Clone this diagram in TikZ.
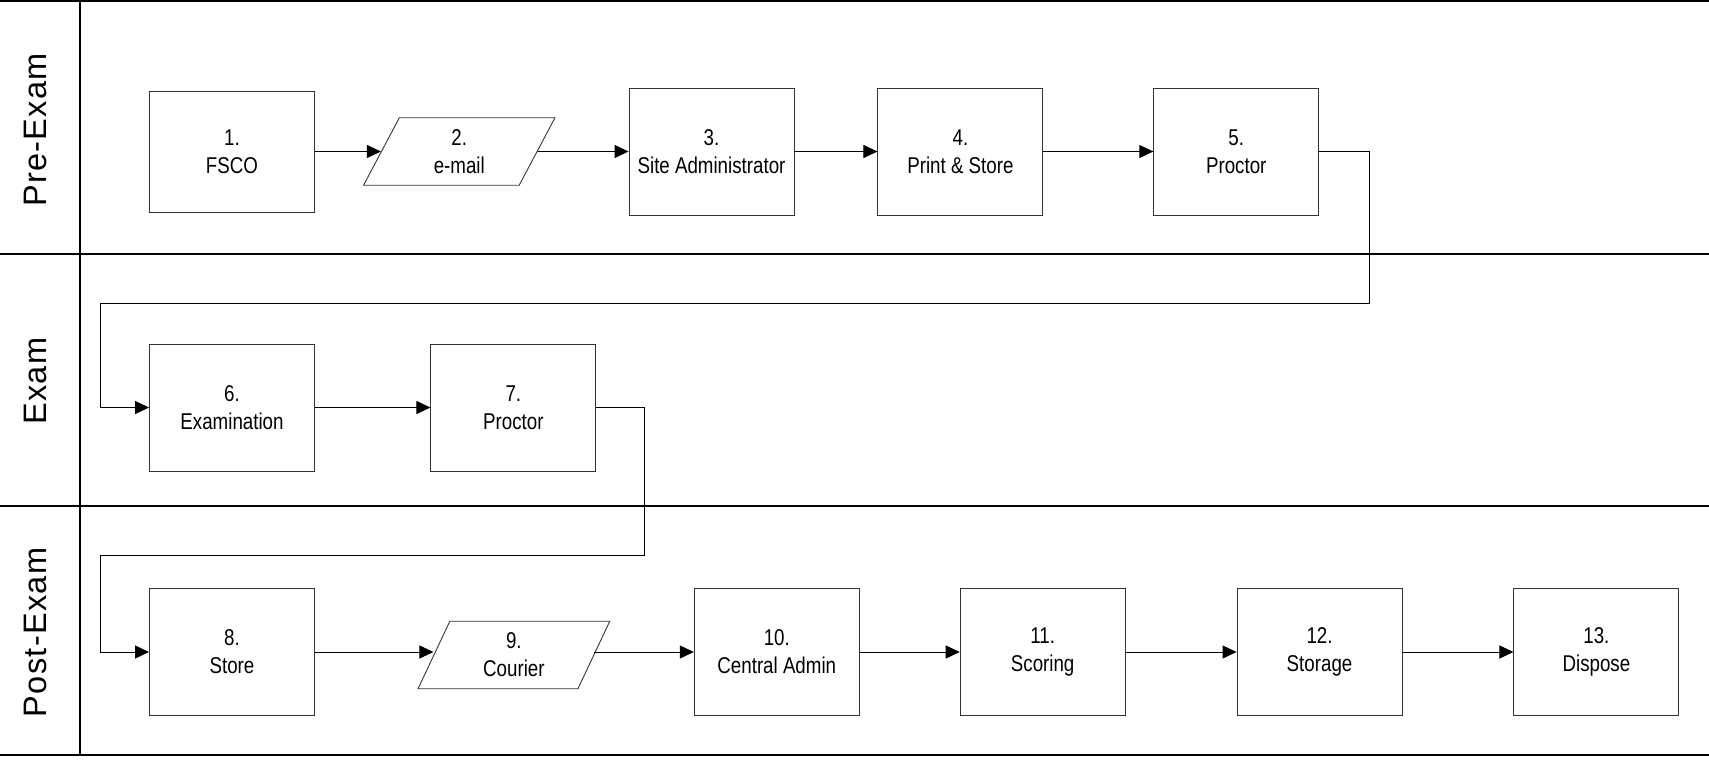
\documentclass[tikz,border=0pt]{standalone}
\usepackage{fontspec}
\setmainfont{Liberation Sans}
\newfontfamily\boxfont[FakeStretch=0.82]{Liberation Sans}
\newfontfamily\lanefont[LetterSpace=4]{Liberation Sans}
\usetikzlibrary{shapes.geometric, arrows.meta, positioning}

\begin{document}
\begin{tikzpicture}[
    every node/.style={font=\boxfont\fontsize{13}{16}\selectfont},
    process/.style={
        rectangle,
        draw=black!80,
        line width=0.5pt,
        align=center,
        inner sep=0pt,
        minimum width=3.3cm,
        minimum height=2.54cm
    },
    data/.style={
        trapezium,
        trapezium left angle=71,
        trapezium right angle=109,
        trapezium stretches=true,
        draw=black!80,
        line width=0.5pt,
        align=center,
        inner sep=0pt,
        minimum width=3.84cm,
        minimum height=1.35cm
    },
    lane/.style={
        font=\lanefont\fontsize{18.5}{20}\selectfont,
        rotate=90
    },
    laneline/.style={
        line width=0.8pt
    },
    arrow/.style={
        -{Triangle[length=0.28cm, width=0.26cm]},
        line width=0.55pt
    }
]

\useasboundingbox (0,0) rectangle (34.18,-15.18);

% Carriles
\draw[laneline] (0,-0.02) -- (34.18,-0.02);
\draw[laneline] (0,-5.08) -- (34.18,-5.08);
\draw[laneline] (0,-10.12) -- (34.18,-10.12);
\draw[line width=1.6pt] (0,-15.1) -- (34.18,-15.1);
\draw[laneline] (1.6,0) -- (1.6,-15.1);

\node[lane] (pre) at (0.7,-2.6) {Pre-Exam};
\node[lane] (exam) at (0.7,-7.62) {Exam};
\node[lane] (post) at (0.7,-12.65) {Post-Exam};

% Nodos principales
\node[process, minimum height=2.42cm] (fsco) at (4.64,-3.03) {1.\\FSCO};
\node[data, right=1.32cm of fsco] (email) {2.\\e-mail};
\node[process, right=1.82cm of email] (siteadmin) {3.\\Site Administrator};
\node[process, right=1.66cm of siteadmin] (print) {4.\\Print \& Store};
\node[process, right=2.2cm of print] (proctorA) {5.\\Proctor};

\node[process] (examination) at (4.64,-8.15) {6.\\Examination};
\node[process, right=2.31cm of examination] (proctorB) {7.\\Proctor};

\node[process] (store) at (4.64,-13.04) {8.\\Store};
\node[data, right=2.37cm of store, yshift=-0.06cm] (courier) {9.\\Courier};
\node[process, right=1.99cm of courier, yshift=0.06cm] (central) {10.\\Central Admin};
\node[process, right=2.0cm of central] (scoring) {11.\\Scoring};
\node[process, right=2.22cm of scoring] (storage) {12.\\Storage};
\node[process, right=2.22cm of storage] (dispose) {13.\\Dispose};

% Puntos de quiebre
\coordinate (turnA) at (27.38,-6.06);
\coordinate (turnB) at (2.0,-6.06);
\coordinate (turnC) at (12.88,-11.1);
\coordinate (turnD) at (2.0,-11.1);

% Flechas
\draw[arrow] (fsco) -- (email);
\draw[arrow] (email) -- (siteadmin);
\draw[arrow] (siteadmin) -- (print);
\draw[arrow] (print) -- (proctorA);

\draw[arrow] (proctorA.east) -| (turnA) -- (turnB) |- (examination.west);
\draw[arrow] (examination) -- (proctorB);

\draw[arrow] (proctorB.east) -| (turnC) -- (turnD) |- (store.west);
\draw[arrow] (store) -- (store -| courier.west);
\draw[arrow] (courier.east |- central) -- (central);
\draw[arrow] (central) -- (scoring);
\draw[arrow] (scoring) -- (storage);
\draw[arrow] (storage) -- (dispose);

\end{tikzpicture}
\end{document}
